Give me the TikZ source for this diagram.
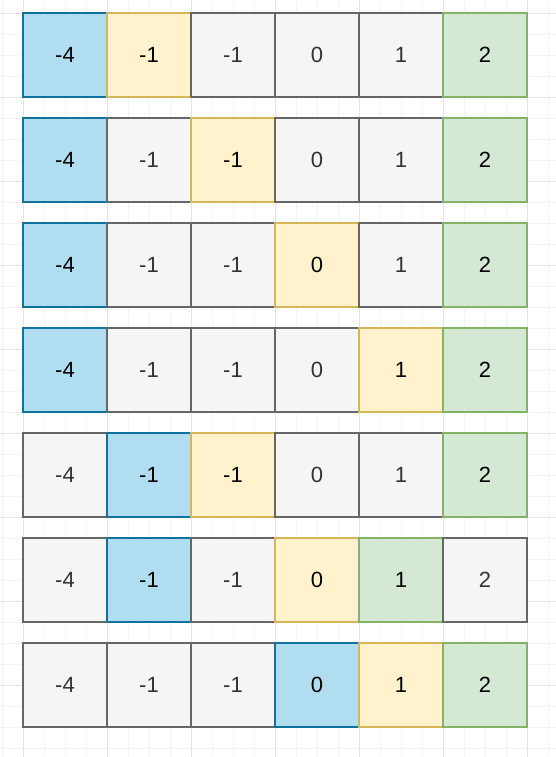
\documentclass[tikz,border=0pt]{standalone}
\usepackage{fontspec}
\setmainfont{Liberation Sans}
\definecolor{bfill}{HTML}{B1DDF0}\definecolor{bline}{HTML}{10739E}
\definecolor{yfill}{HTML}{FFF2CC}\definecolor{yline}{HTML}{D6B656}
\definecolor{gfill}{HTML}{F5F5F5}\definecolor{gline}{HTML}{666666}
\definecolor{nfill}{HTML}{D5E8D4}\definecolor{nline}{HTML}{82B366}
\definecolor{gtext}{HTML}{333333}
\definecolor{minorgrid}{HTML}{F4F4F4}\definecolor{majorgrid}{HTML}{E6E6E6}
\begin{document}
\begin{tikzpicture}[x=0.75pt,y=-0.75pt,
  cell/.style={draw, line width=1.1pt, minimum size=63pt, inner sep=0pt, font=\fontsize{16.5}{18}\selectfont},
  cellb/.style={cell, fill=bfill, draw=bline, text=black},
  celly/.style={cell, fill=yfill, draw=yline, text=black},
  cellg/.style={cell, fill=gfill, draw=gline, text=gtext},
  celln/.style={cell, fill=nfill, draw=nline, text=black},
  minorline/.style={draw=minorgrid, line width=0.6pt},
  majorline/.style={draw=majorgrid, line width=0.6pt}]
\useasboundingbox[fill=white] (0,0) rectangle (556,757);
\foreach \k in {0,...,26} \draw[minorline] (2+21*\k,0) -- (2+21*\k,757);
\foreach \k in {0,...,35} \draw[minorline] (0,13+21*\k) -- (556,13+21*\k);
\foreach \k in {0,...,6} \draw[majorline] (23+84*\k,0) -- (23+84*\k,757);
\foreach \k in {0,...,8} \draw[majorline] (0,13+84*\k) -- (556,13+84*\k);
\foreach \row [count=\r] in {
  {cellb/-4,celly/-1,cellg/-1,cellg/0,cellg/1,celln/2},
  {cellb/-4,cellg/-1,celly/-1,cellg/0,cellg/1,celln/2},
  {cellb/-4,cellg/-1,cellg/-1,celly/0,cellg/1,celln/2},
  {cellb/-4,cellg/-1,cellg/-1,cellg/0,celly/1,celln/2},
  {cellg/-4,cellb/-1,celly/-1,cellg/0,cellg/1,celln/2},
  {cellg/-4,cellb/-1,cellg/-1,celly/0,celln/1,cellg/2},
  {cellg/-4,cellg/-1,cellg/-1,cellb/0,celly/1,celln/2}} {
  \foreach \s/\v [count=\c] in \row {
    \node[\s] (r\r c\c) at (65+84*\c-84, 55+105*\r-105) {\v};
  }
}
\end{tikzpicture}
\end{document}
